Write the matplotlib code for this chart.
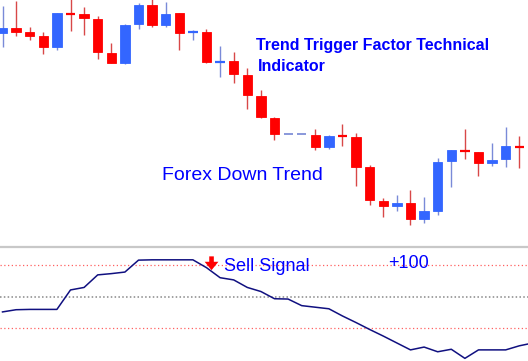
import matplotlib
matplotlib.use("Agg")
import matplotlib.pyplot as plt
import numpy as np

plt.rcParams['font.family'] = ['Liberation Sans', 'DejaVu Sans']

# price candles (points)
opens = [207, 212, 208, 204, 193, 226.5, 226, 221, 187, 177,
         216, 235, 215, 227, 208, 208, 178, 179, 165, 144,
         122, 106, 106, 105, 93, 104, 103, 73, 39, 34,
         37, 21, 29, 79, 89.5, 88, 77, 81, 93.5]
highs = [234, 239, 213, 208, 227, 242, 233, 224, 197, 216,
         237, 241, 238, 227, 210, 211, 194, 188, 172, 150,
         123, 106, 106, 111, 105, 116, 107, 75, 42, 45,
         50, 43, 82, 90, 111, 88, 97, 113, 104]
lows = [193, 204, 200, 186, 190, 209, 205, 181, 177, 176,
        211, 213, 213, 190, 200, 177, 163, 157, 131, 122,
        100, 106, 106, 90, 91, 94, 54, 35, 23, 29,
        15, 17, 25, 53, 81, 64, 74, 73, 72]
closes = [212, 208, 204, 193, 227, 226, 222, 188, 177, 215,
          235, 215, 226, 207, 208.5, 178, 178.5, 166, 145, 123,
          106, 106, 106, 93, 104, 103.5, 73, 40, 34, 37,
          21, 29, 78, 90, 89, 77, 80, 94, 93]

# Trend Trigger Factor values
ttf = [-49, -42, -41, -41, -41, 21, 29, 69, 73, 78,
       116, 117, 117, 117, 117, 92, 60, 53, 29, 16,
       -7, -8, -29, -34, -39, -62, -83, -105, -126, -148,
       -170, -161, -176, -168, -197, -170, -170, -170, -157, -148]

RED = '#ff0000'
BLUE = '#3366ff'
TXT = '#0000ff'

fig = plt.figure(figsize=(5.28, 3.61), dpi=100)
ax = fig.add_axes([0, 121 / 361, 1, 240 / 361])
ax2 = fig.add_axes([0, 0, 1, 114.3 / 361])

x = np.arange(len(opens))
for i in x:
    o, h, l, c = opens[i], highs[i], lows[i], closes[i]
    if o == c == h == l:
        ax.hlines(o, i - 0.33, i + 0.33, color='#8090d8', lw=1.3)
        continue
    up = c > o
    col = BLUE if up else RED
    wick = '#7a8ad8' if up else '#d84848'
    ax.vlines(i, l, h, color=wick, lw=1.0, zorder=1)
    if abs(c - o) < 1.5:
        ax.hlines(o, i - 0.35, i + 0.35, color=col, lw=1.6, zorder=2)
    else:
        ax.bar(i, c - o, bottom=o, width=0.68, color=col,
               edgecolor=col, lw=0.6, zorder=2)

ax.set_xlim(-0.184, 38.64)
ax.set_ylim(0, 240)
ax.axis('off')

ax.text(18.64, 190, 'Trend Trigger Factor Technical', color=TXT,
        fontsize=11.5, fontweight='bold', va='baseline')
ax.text(18.79, 169, 'Indicator', color=TXT,
        fontsize=11.5, fontweight='bold', va='baseline')
ax.text(11.73, 60, 'Forex Down Trend', color=TXT, fontsize=14,
        va='baseline')

# indicator panel
xi = np.arange(len(ttf))
ax2.axhline(100, color='#ff6060', lw=0.9, ls=(0, (1, 2)))
ax2.axhline(0, color='#888888', lw=1.1, ls=(0, (1, 1.5)))
ax2.axhline(-100, color='#ff6060', lw=0.9, ls=(0, (1, 2)))
ax2.plot(xi, ttf, color='#101080', lw=1.1)

ax2.annotate('', xy=(15.37, 84), xytext=(15.37, 128),
             arrowprops=dict(arrowstyle='simple,head_width=0.9,head_length=0.55,tail_width=0.3',
                             color=RED, lw=0, shrinkA=0, shrinkB=0,
                             mutation_scale=11))
ax2.text(16.29, 80.5, 'Sell Signal', color=TXT, fontsize=13, va='baseline')
ax2.text(28.35, 91.7, '+100', color=TXT, fontsize=13, va='baseline')

ax2.set_xlim(-0.184, 38.64)
ax2.set_ylim(-205.4, 158.8)
ax2.set_xticks([])
ax2.set_yticks([])
for s in ['left', 'right', 'bottom']:
    ax2.spines[s].set_visible(False)
ax2.spines['top'].set_color('#c8c8c8')
ax2.spines['top'].set_linewidth(1.6)

fig.savefig('out.png', dpi=100)
